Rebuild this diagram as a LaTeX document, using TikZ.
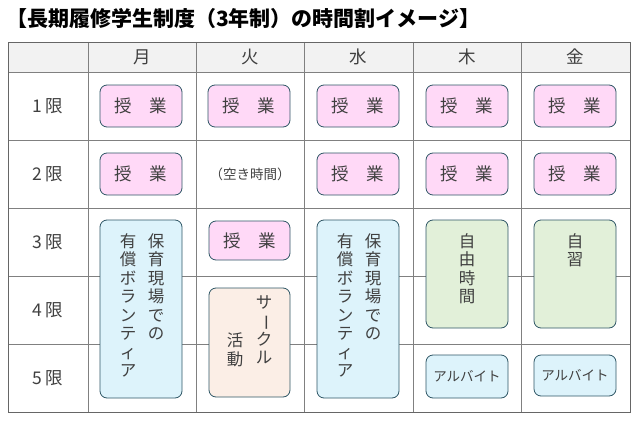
\documentclass[tikz,border=0pt]{standalone}
\usepackage{fontspec}
\setmainfont{Noto Sans CJK JP}
\usetikzlibrary{positioning}
\definecolor{edgeblue}{HTML}{2E5665}
\definecolor{pinkfill}{HTML}{FFD9F7}
\definecolor{bluefill}{HTML}{DDF3FB}
\definecolor{peachfill}{HTML}{FBEEE6}
\definecolor{greenfill}{HTML}{E2F0D9}
\definecolor{headgray}{HTML}{F2F2F2}
\newcommand{\bou}{\rotatebox[origin=c]{-90}{ー}}
\tikzset{
  cell/.style={draw=edgeblue, thick, rounded corners=7pt},
  lesson/.style={cell, fill=pinkfill},
  tate/.style={anchor=north, align=center, inner sep=0pt,
    font=\fontsize{16.5}{18.5}\selectfont, text=black!75},
  txt/.style={font=\fontsize{17.5}{20}\selectfont, text=black!75},
  small/.style={font=\fontsize{13.5}{16}\selectfont, text=black!75}
}
\begin{document}
\begin{tikzpicture}[x=1pt,y=-1pt]
		\useasboundingbox (0,0) rectangle (639,420);
		% header and grid
		\fill[headgray] (8,42) rectangle (630,72);
		\foreach \y in {72,140,208,276,344}
			\draw[gray] (8,\y) -- (630,\y);
		\foreach \x in {88,196,304,413,521}
			\draw[gray] (\x,42) -- (\x,412);
		\draw[gray!80!black] (8,42) rectangle (630,412);
		% title
		\node[anchor=west, inner sep=0pt, font=\fontsize{21}{24}\selectfont\bfseries] (title) at (6,19)
			{【長期履修学生制度（3年制）の時間割イメージ】};
		% day and period labels
		\foreach \x/\d [count=\i] in {142/月,250/火,358/水,467/木,575/金}
			\node[txt] (day\i) at (\x,57) {\d};
		\foreach \y [count=\i] in {106,174,242,310,378}
			\node[txt] (period\i) at (48,\y) {\i\,限};
		% lessons
		\foreach \x [count=\i] in {141,249,358,467,575} {
			\node[lesson, minimum width=82pt, minimum height=42pt, txt] (a\i) at (\x,106) {授\quad 業};
		}
		\foreach \x [count=\i] in {141,358,467,575} {
			\node[lesson, minimum width=82pt, minimum height=42pt, txt] (b\i) at (\x,174) {授\quad 業};
		}
		\node[small] (free) at (250,174) {（空き時間）};
		\node[lesson, minimum width=81pt, minimum height=39pt, txt] (c2) at (249.5,240.5) {授\quad 業};
		% long blocks
		\draw[cell, fill=bluefill] (100,220) rectangle (182,398);
		\draw[cell, fill=bluefill] (317,220) rectangle (399,398);
		\draw[cell, fill=peachfill] (209,288) rectangle (290,397);
		\draw[cell, fill=greenfill] (426,220) rectangle (508,328);
		\draw[cell, fill=greenfill] (534,220) rectangle (616,328);
		\foreach \x in {0,217} {
			\node[tate] (vol\x a) at (156+\x,233) {保\\育\\現\\場\\で\\の};
			\node[tate] (vol\x b) at (128+\x,233) {有\\償\\ボ\\ラ\\ン\\テ\\ィ\\ア};
		}
		\node[tate] (club) at (264,295) {サ\\\bou\\ク\\ル};
		\node[tate] (clubb) at (235,333) {活\\動};
		\node[tate] (jiyu) at (467,233) {自\\由\\時\\間};
		\node[tate] (jishu) at (575,233) {自\\習};
		% part-time jobs
		\node[cell, fill=bluefill, minimum width=82pt, minimum height=43pt, small] (job1) at (467,376.5) {アルバイト};
		\node[cell, fill=bluefill, minimum width=82pt, minimum height=41pt, small] (job2) at (575,375.5) {アルバイト};
\end{tikzpicture}
\end{document}
